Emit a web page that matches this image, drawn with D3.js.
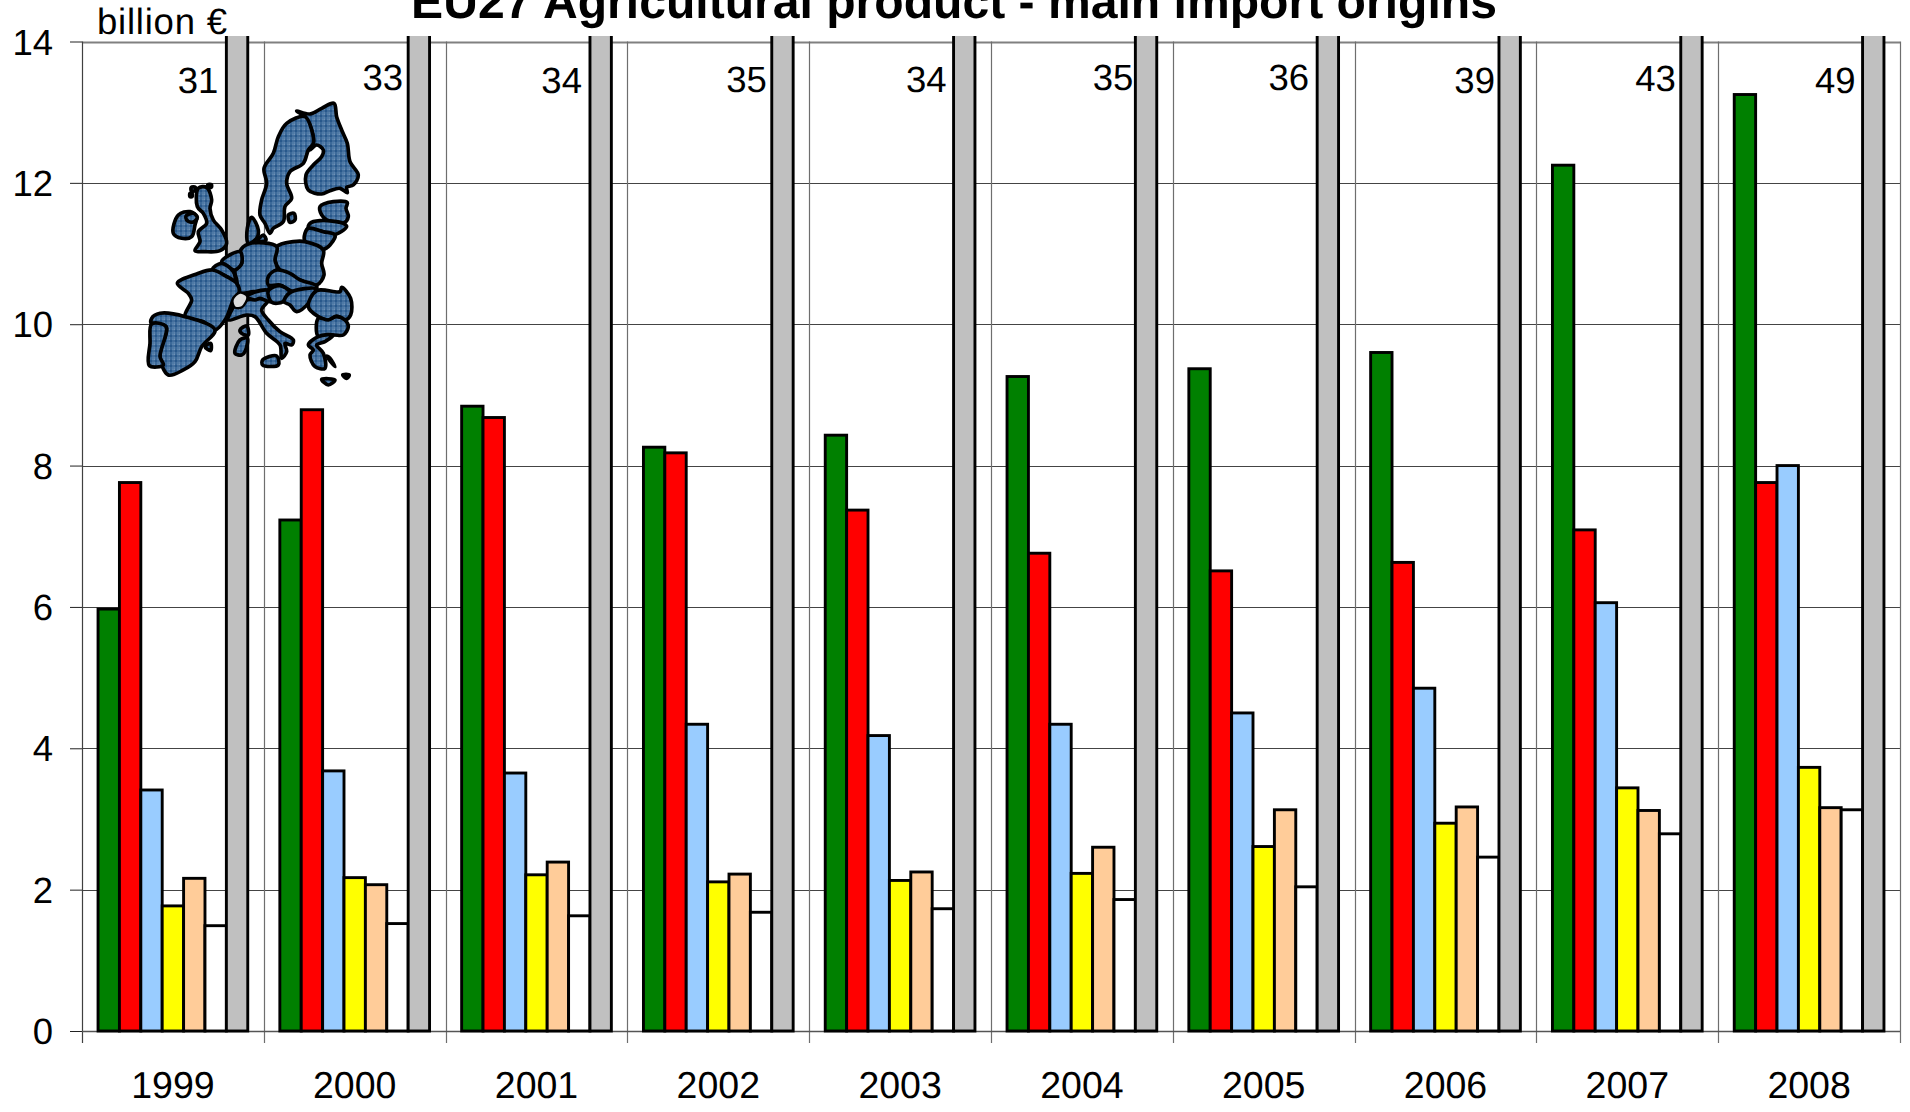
<!DOCTYPE html>
<html><head><meta charset="utf-8">
<script src="https://cdn.jsdelivr.net/npm/d3@7"></script>
<style>html,body{margin:0;padding:0;background:#fff}svg{display:block}text{font-family:"Liberation Sans",Arial,sans-serif;fill:#000;text-rendering:geometricPrecision}</style>
</head><body><script>
const years=["1999","2000","2001","2002","2003","2004","2005","2006","2007","2008"];
const seriesNames=["green","red","blue","yellow","peach","white","gray"];
const seriesColors=["#008000","#ff0000","#99ccff","#ffff00","#ffcc99","#ffffff","#c0c0c0"];
const greenValues=[5.97,7.23,8.84,8.26,8.43,9.26,9.37,9.6,12.25,13.25];
const redValues=[7.76,8.79,8.68,8.18,7.37,6.76,6.51,6.63,7.09,7.76];
const blueValues=[3.41,3.68,3.65,4.34,4.18,4.34,4.5,4.85,6.06,8.0];
const yellowValues=[1.77,2.17,2.21,2.11,2.13,2.23,2.61,2.94,3.44,3.73];
const peachValues=[2.16,2.07,2.39,2.22,2.25,2.6,3.13,3.17,3.12,3.16];
const whiteValues=[1.49,1.52,1.63,1.68,1.73,1.86,2.04,2.46,2.79,3.13];
const totals=[31,33,34,35,34,35,36,39,43,49];
const yTicks=[0,2,4,6,8,10,12,14];
const titleText="EU27 Agricultural product - main import origins";
const unitText="billion €";
// small hand placement of the total labels, as in the reference
const labelNudgeX=[-8,-5,-8,-5,-7,-2,-8,-4,-5,-7];
const labelNudgeY=[0,-3,0,-1,-1,-3,-3,0,-2,0];

const W=1910,H=1112,L=82,R=1900,T=41.5,B=1031,FS=36.5;
const svg=d3.select("body").append("svg").attr("width",W).attr("height",H);
const x=d3.scaleBand().domain(years).range([L,R]);
const inner=d3.scaleBand().domain(seriesNames).range([0,x.bandwidth()]).paddingInner(0).paddingOuter(0.75);
const y=d3.scaleLinear().domain([0,14]).range([B,T]);
const values=[greenValues,redValues,blueValues,yellowValues,peachValues,whiteValues,totals];

svg.append("text").attr("x",954).attr("y",18).attr("text-anchor","middle").attr("font-weight","bold").attr("font-size",48.1).text(titleText);
svg.append("text").attr("x",97).attr("y",34).attr("font-size",FS).attr("textLength",130).attr("lengthAdjust","spacing").text(unitText);

// gridlines and axes
const ya=d3.axisLeft(y).tickValues(yTicks).tickSize(12).tickPadding(17).tickFormat(d3.format("d"));
const gy=svg.append("g").attr("transform",`translate(${L},0)`).call(ya);
gy.select(".domain").remove();
gy.selectAll("line").attr("stroke","#222").attr("stroke-width",1);
gy.selectAll("text").attr("font-size",FS).attr("dy",12.5);
svg.append("g").selectAll("line").data(yTicks).join("line")
  .attr("x1",L).attr("x2",R).attr("y1",d=>Math.round(y(d))+.5).attr("y2",d=>Math.round(y(d))+.5)
  .attr("stroke",d=>d===14?"#808080":"#444").attr("stroke-width",d=>d===14?2:1);
const edges=years.map(d=>x(d)).concat([R]);
svg.append("g").selectAll("line").data(edges).join("line")
  .attr("x1",d=>Math.round(d)+.5).attr("x2",d=>Math.round(d)+.5).attr("y1",T).attr("y2",B+12)
  .attr("stroke",(d,i)=>i===0?"#404040":"#6e6e6e").attr("stroke-width",1.2);
svg.append("line").attr("x1",L).attr("x2",R).attr("y1",B+.5).attr("y2",B+.5).attr("stroke","#555").attr("stroke-width",1.5);
const xa=d3.axisBottom(x).tickSize(0).tickPadding(0);
const gx=svg.append("g").attr("transform",`translate(0,${B})`).call(xa);
gx.select(".domain").remove();
gx.selectAll("text").attr("font-size",37.5).attr("dy",0).attr("y",67);

// bars
svg.append("clipPath").attr("id","plot").append("rect").attr("x",0).attr("y",36).attr("width",W).attr("height",H);
const bars=svg.append("g").attr("clip-path","url(#plot)");
years.forEach((yr,i)=>{
  seriesNames.forEach((s,k)=>{
    const v=k===6?14.5:values[k][i]; // the total series runs off the top of the axis
    bars.append("rect").attr("x",x(yr)+inner(s)).attr("width",inner.bandwidth())
      .attr("y",y(v)).attr("height",B-y(v))
      .attr("fill",seriesColors[k]).attr("stroke","#000").attr("stroke-width",2.9);
  });
});

// totals
svg.append("g").selectAll("text").data(years).join("text")
  .attr("x",(d,i)=>x(d)+inner("gray")+labelNudgeX[i]).attr("y",(d,i)=>93+labelNudgeY[i])
  .attr("text-anchor","end").attr("font-size",FS).text((d,i)=>totals[i]);

// EU map, decorative outline
const defs=svg.append("defs");
const pat=defs.append("pattern").attr("id","hatch").attr("patternUnits","userSpaceOnUse").attr("width",15).attr("height",15);
pat.append("rect").attr("width",15).attr("height",15).attr("fill","#6f93b8");
pat.append("path").attr("d","M3 0V15M0 3H15").attr("stroke","#14487f").attr("stroke-width",3.5).attr("fill","none");
pat.append("path").attr("d","M9 0V15M0 9H15").attr("stroke","#3f6c9c").attr("stroke-width",2.5).attr("fill","none");
const regions=[
[[470,33],[510,42],[545,25],[582,10],[590,50],[605,90],[622,130],[630,185],[655,225],[640,255],[620,262],[622,278],[600,265],[570,272],[545,282],[505,270],[498,225],[520,195],[545,170],[550,150],[530,135],[510,150],[520,130],[515,90],[495,50]],
[[495,50],[515,90],[520,130],[505,150],[490,190],[450,215],[440,250],[455,295],[435,320],[430,365],[400,385],[390,400],[375,370],[360,345],[365,300],[380,250],[372,205],[400,160],[415,110],[440,70]],
[[445,345],[462,340],[465,360],[450,367]],
[[355,420],[370,405],[378,420],[360,425]],
[[335,352],[355,390],[350,415],[325,430],[322,385]],
[[540,320],[580,305],[622,308],[618,325],[625,350],[610,370],[560,360],[545,345]],
[[510,370],[540,362],[610,370],[620,380],[580,405],[550,395],[505,385]],
[[505,385],[550,395],[585,405],[570,435],[550,448],[495,425],[495,400]],
[[410,440],[460,425],[495,425],[550,450],[545,490],[552,525],[530,555],[480,540],[420,510],[405,480]],
[[325,432],[410,440],[405,480],[412,510],[390,530],[385,570],[340,575],[300,578],[290,540],[285,510],[305,490],[300,455]],
[[245,485],[300,455],[305,490],[285,510],[270,505]],
[[218,508],[245,490],[280,515],[285,545],[260,530]],
[[112,550],[170,522],[218,510],[260,530],[290,550],[298,575],[280,600],[270,625],[258,655],[225,690],[190,665],[135,650],[155,600],[145,580]],
[[35,655],[60,640],[135,650],[225,690],[185,740],[165,785],[130,810],[85,825],[60,770],[78,680],[35,672]],
[[35,672],[78,680],[60,770],[70,795],[28,797],[30,730]],
[[175,265],[200,262],[215,300],[210,325],[220,360],[245,390],[260,430],[240,452],[195,455],[165,452],[180,425],[175,395],[200,370],[190,340],[172,320]],
[[100,400],[115,345],[150,335],[170,350],[165,375],[155,410],[125,415]],
[[138,348],[160,340],[172,352],[160,366],[142,362]],
[[270,640],[295,605],[320,600],[360,595],[385,600],[365,630],[385,660],[420,695],[460,720],[455,735],[435,730],[440,755],[425,775],[420,735],[380,700],[345,650],[320,645],[265,660]],
[[320,590],[340,578],[385,572],[390,605],[360,595],[345,600]],
[[385,530],[410,510],[450,520],[480,540],[530,558],[525,570],[460,575],[420,555],[385,555]],
[[385,572],[420,557],[450,578],[430,605],[395,607]],
[[450,578],[530,568],[510,605],[470,635],[450,615],[432,605]],
[[530,572],[600,575],[605,562],[632,595],[632,645],[615,660],[590,648],[565,660],[535,650],[505,620]],
[[535,655],[565,660],[590,650],[615,660],[625,680],[610,705],[580,705],[535,710]],
[[535,710],[580,705],[555,725],[530,735],[550,760],[555,805],[525,800],[510,765],[520,750],[505,735]],
[[368,780],[410,768],[415,795],[368,795]],
[[285,760],[300,720],[322,715],[315,755],[305,765]],
[[300,690],[320,678],[325,705],[305,700]],
[[195,740],[212,730],[212,752]],
[[545,838],[585,840],[565,855]],
[[608,825],[628,825],[620,835]],
[[560,768],[585,800],[570,775]],
[[154,262],[166,262],[166,272],[154,272]],
[[204,254],[214,254],[214,262],[204,262]],
[[150,280],[156,280],[156,290],[150,290]]
];
const swiss=[[278,598],[300,578],[322,590],[306,622],[284,622]];
const line=d3.line().curve(d3.curveCatmullRomClosed.alpha(0.5));
const map=svg.append("g").attr("transform","translate(140,100) scale(0.3333)");
map.selectAll("path.r").data(regions).join("path").attr("class","r").attr("d",line)
  .attr("fill","url(#hatch)").attr("stroke","#000").attr("stroke-width",11).attr("stroke-linejoin","round");
map.append("path").attr("d",line(swiss)).attr("fill","#dcdcdc").attr("stroke","#000").attr("stroke-width",7);
</script></body></html>
